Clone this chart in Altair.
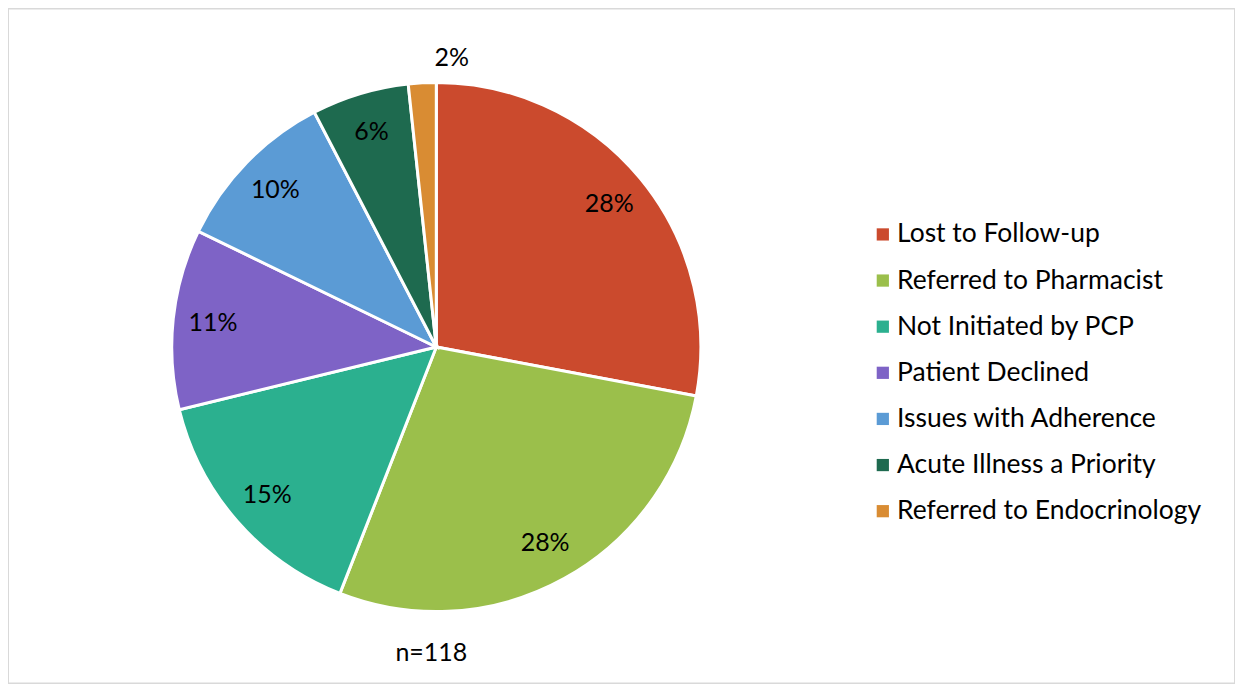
import altair as alt
import pandas as pd

categories = ["Lost to Follow-up", "Referred to Pharmacist", "Not Initiated by PCP",
              "Patient Declined", "Issues with Adherence", "Acute Illness a Priority",
              "Referred to Endocrinology"]
counts = [33, 33, 18, 13, 12, 7, 2]
colors = ["#CB4A2D", "#9BBF4B", "#2BB08F", "#7E63C6", "#5B9BD5", "#1E6A4F", "#D98C33"]

total = sum(counts)
df = pd.DataFrame({
    "category": categories,
    "count": counts,
    "order": list(range(len(categories))),
    "label": [f"{round(c / total * 100)}%" for c in counts],
})

W, H = 1229, 676
CX, CY, R = 429, 339, 265
FONT = "Lato"

base = alt.Chart(df).encode(
    theta=alt.Theta("count:Q", stack=True),
    order=alt.Order("order:Q"),
)

pie = base.mark_arc(outerRadius=R, stroke="white", strokeWidth=3, x=CX, y=CY).encode(
    color=alt.Color(
        "category:N",
        scale=alt.Scale(domain=categories, range=colors),
        sort=categories,
        legend=alt.Legend(
            title=None, orient="none", legendX=863, legendY=213, padding=0,
            symbolType="square", symbolSize=150, symbolStrokeWidth=0,
            labelFont=FONT, labelFontSize=26.5, labelColor="black",
            labelOffset=1, rowPadding=19.2, labelLimit=400,
        ),
    )
)

inner = base.transform_filter("datum.count >= 5").mark_text(
    radius=225, x=CX, y=CY, font=FONT, fontSize=25, color="black"
).encode(text="label:N")

outer = base.transform_filter("datum.count < 5").mark_text(
    radius=290, x=CX, y=CY, font=FONT, fontSize=25, color="black"
).encode(text="label:N")

note = alt.Chart(pd.DataFrame({"t": [f"n={total}"]})).mark_text(
    font=FONT, fontSize=25, color="black"
).encode(x=alt.value(424), y=alt.value(646), text="t:N")

chart = alt.layer(pie, inner, outer, note).properties(
    width=W, height=H, padding=0, autosize=alt.AutoSizeParams(type="none")
).configure_view(stroke="#D9D9D9", strokeWidth=2)

chart.save("out.html", embed_options={"renderer": "svg", "actions": False})
